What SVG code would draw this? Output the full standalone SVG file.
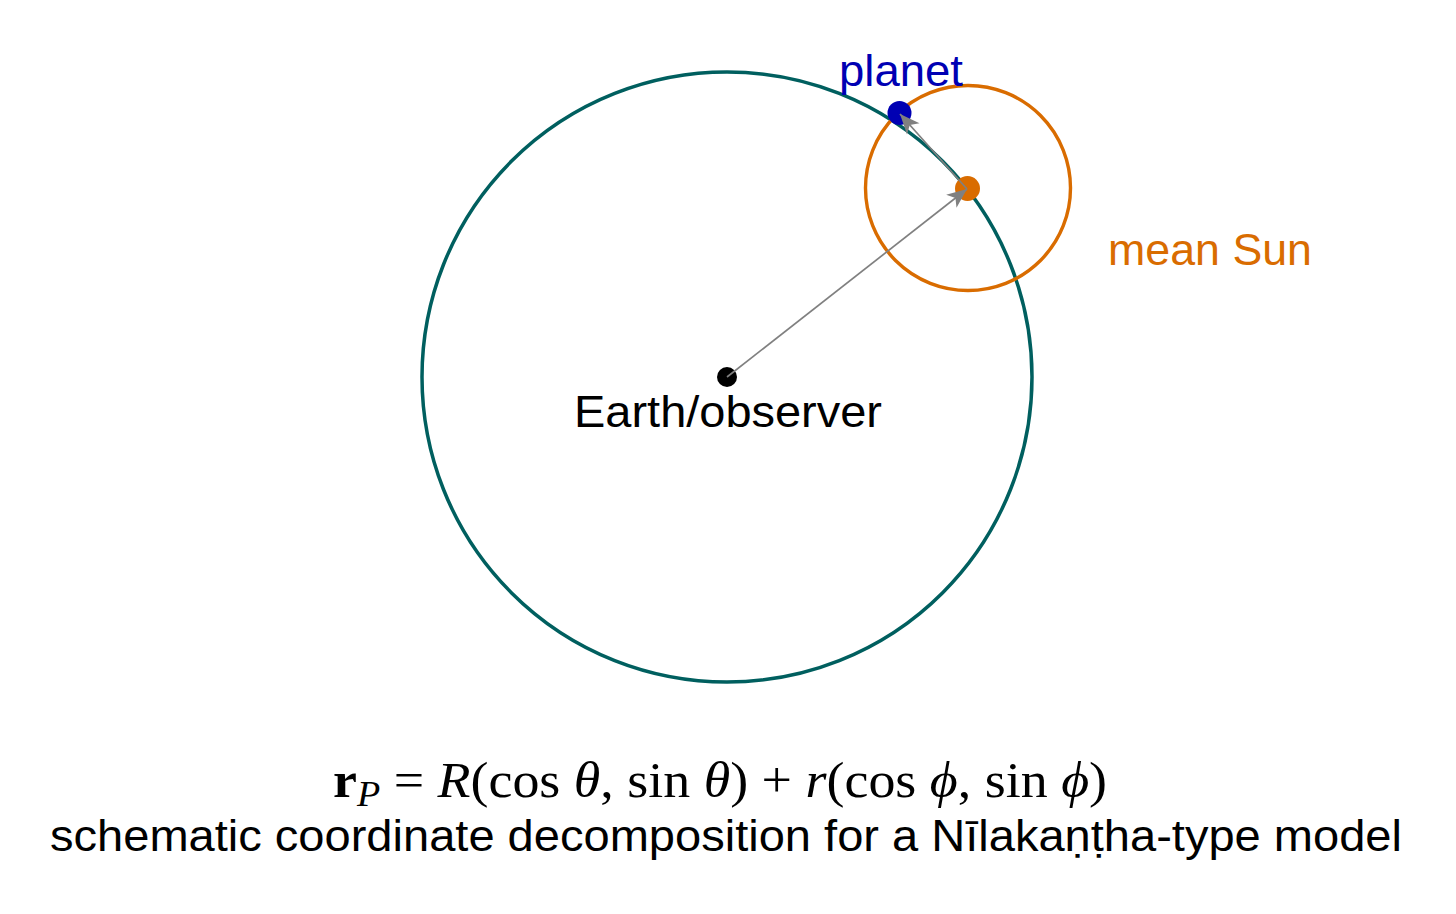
<svg xmlns="http://www.w3.org/2000/svg" width="1456" height="914" viewBox="0 0 1456 914">
<defs>
<marker id="arr" markerUnits="userSpaceOnUse" markerWidth="22" markerHeight="20" viewBox="-20 -9 21 18" refX="0" refY="0" orient="auto">
<path d="M0,0 L-19,-8 L-14,0 L-19,8 Z" fill="#808080"/>
</marker>
</defs>
<style>
.lbl{font-family:"Liberation Sans","DejaVu Sans",sans-serif;font-size:44px}
.math{font-family:"Liberation Serif","DejaVu Serif",serif;font-size:51px}
.it{font-style:italic}
.conn{stroke:#808080;stroke-width:1.7;fill:none;marker-end:url(#arr)}
</style>
<rect width="1456" height="914" fill="#ffffff"/>
<g id="deferent">
<circle cx="727" cy="377" r="305" fill="none" stroke="#005f5f" stroke-width="3.5"/>
</g>
<g id="epicycle">
<circle cx="968" cy="188" r="102.5" fill="none" stroke="#d96c00" stroke-width="3.4"/>
</g>
<g id="earth">
<circle cx="727" cy="377" r="10" fill="#000000"/>
<text class="lbl" x="574" y="427" textLength="308" lengthAdjust="spacingAndGlyphs" fill="#000000">Earth/observer</text>
</g>
<g id="sun">
<circle cx="967.5" cy="188.5" r="12.5" fill="#d96c00"/>
<text class="lbl" x="1108" y="265" textLength="204" lengthAdjust="spacingAndGlyphs" fill="#d96c00">mean Sun</text>
</g>
<g id="planet">
<circle cx="899.5" cy="113" r="12" fill="#0000b3"/>
<text class="lbl" x="839" y="86" textLength="124" lengthAdjust="spacingAndGlyphs" fill="#0000b3">planet</text>
</g>
<g id="connectors">
<line class="conn" x1="727" y1="377" x2="967" y2="189"/>
<line class="conn" x1="967" y1="189" x2="900" y2="114"/>
</g>
<g id="formula">
<text class="math" x="333" y="797" textLength="774" lengthAdjust="spacingAndGlyphs" fill="#000000"><tspan font-weight="bold">r</tspan><tspan class="it" font-size="36" dy="9">P</tspan><tspan dy="-9"> = </tspan><tspan class="it">R</tspan><tspan>(cos </tspan><tspan class="it">θ</tspan><tspan>, sin </tspan><tspan class="it">θ</tspan><tspan>) + </tspan><tspan class="it">r</tspan><tspan>(cos </tspan><tspan class="it">ϕ</tspan><tspan>, sin </tspan><tspan class="it">ϕ</tspan><tspan>)</tspan></text>
</g>
<g id="caption">
<text class="lbl" x="50" y="851" textLength="1352" lengthAdjust="spacingAndGlyphs" fill="#000000">schematic coordinate decomposition for a Nīlakaṇṭha-type model</text>
</g>
</svg>
